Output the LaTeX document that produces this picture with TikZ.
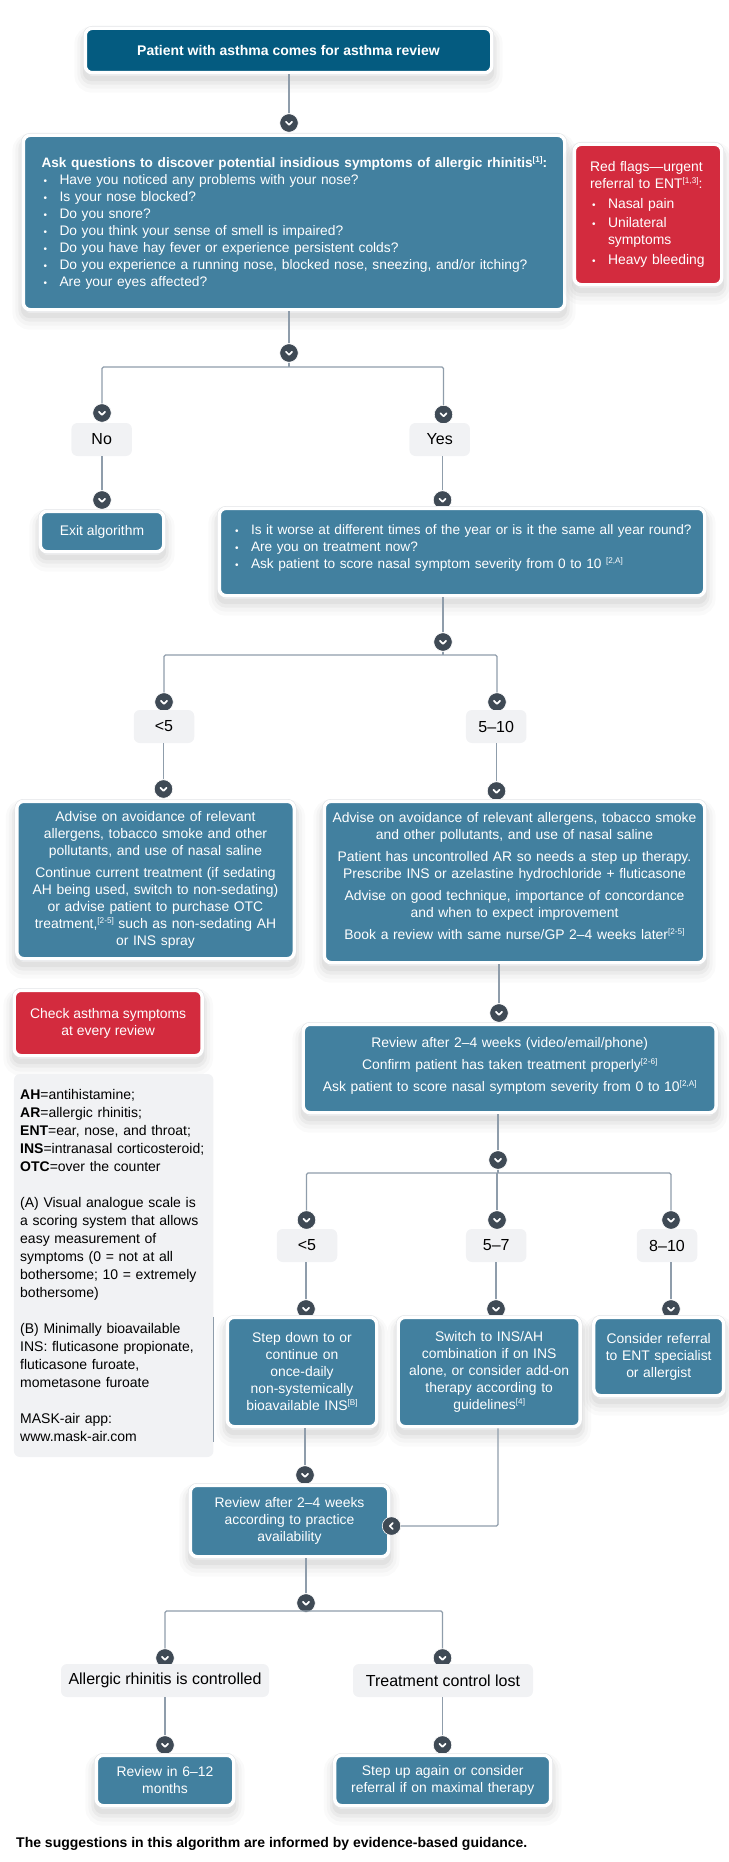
\documentclass[tikz,border=0pt]{standalone}
\usepackage{fontspec}
\setmainfont{Liberation Sans}
\newcommand{\refmark}[1]{\raisebox{5pt}{\fontsize{8.2}{8.2}\selectfont #1}}
\newcommand{\bul}{\makebox[18pt][l]{\hspace{2pt}\fontsize{10}{10}\selectfont\textbullet}}
\newcommand{\lowgap}[1]{\rule[-#1]{0pt}{#1}}
\tikzset{softshade/.style = {
    preaction={draw=black, draw opacity=.018, line width=22pt, transform canvas={yshift=-9pt}},
    preaction={draw=black, draw opacity=.025, line width=16pt, transform canvas={yshift=-8pt}},
    preaction={draw=black, draw opacity=.035, line width=10pt, transform canvas={yshift=-7pt}},
    preaction={draw=black, draw opacity=.045, line width=5pt, transform canvas={yshift=-6pt}}}}
\tikzset{flowbox/.style = {softshade, preaction={draw=rimgray, line width=4.6pt},
    draw=white, line width=3.4pt, fill=boxteal, rounded corners=7pt, text=white,
    inner sep=0pt, align=center, font=\fontsize{13.9}{17}\selectfont}}
\tikzset{redbox/.style = {flowbox, fill=flagred}}
\tikzset{startbox/.style = {flowbox, fill=topblue}}
\tikzset{choice/.style = {fill=panelgray, rounded corners=6pt, inner sep=0pt,
    align=center, font=\fontsize{16}{19}\selectfont}}
\tikzset{boxsize/.style 2 args = {minimum width=#1, minimum height=#2}}
\tikzset{link/.style = {draw=linkgray, line width=1.1pt, rounded corners=1.5pt}}
\tikzset{hop/.style = {circle, fill=hopdark, draw=white, line width=.6pt, minimum size=18.5pt, inner sep=0pt}}
\tikzset{hopdown/.style = {hop, path picture={
    \draw[white, line width=1.7pt, line cap=round, line join=round]
      ([shift={(-3,-1.2)}]path picture bounding box.center) -- ++(3,3) -- ++(3,-3);}}}
\tikzset{hopleft/.style = {hop, path picture={
    \draw[white, line width=1.7pt, line cap=round, line join=round]
      ([shift={(1.3,-3)}]path picture bounding box.center) -- ++(-3,3) -- ++(3,3);}}}
\definecolor{boxteal}{HTML}{42809F}
\definecolor{topblue}{HTML}{045B80}
\definecolor{flagred}{HTML}{D32B3E}
\definecolor{panelgray}{HTML}{F1F2F4}
\definecolor{linkgray}{HTML}{8F9DAB}
\definecolor{hopdark}{HTML}{3F4A55}
\definecolor{rimgray}{HTML}{E2E4E7}

\begin{document}
\begin{tikzpicture}[x=1pt, y=-1pt]
  \useasboundingbox (0, 0) rectangle (728, 1862);

  % top of the chart
  \node (visit) [startbox, boxsize={406.4}{44.4}] at (288.5, 50.5)
    {\fontsize{14}{17}\selectfont\bfseries Patient with asthma comes for asthma review};
  \node (hopA) [hopdown] at (289, 123) {};
  \node (ask) [flowbox, boxsize={541.4}{174.4}, text width=505pt, align=left,
      font=\fontsize{13.8}{17}\selectfont] at (294, 222.5)
    {\mbox{\fontsize{13.65}{17}\selectfont\bfseries Ask questions to discover potential insidious symptoms of allergic rhinitis\refmark{[1]}:}\\
     \bul Have you noticed any problems with your nose?\\
     \bul Is your nose blocked?\\
     \bul Do you snore?\\
     \bul Do you think your sense of smell is impaired?\\
     \bul Do you have hay fever or experience persistent colds?\\
     \bul Do you experience a running nose, blocked nose, sneezing, and/or itching?\\
     \bul Are your eyes affected?};
  \node (flags) [redbox, boxsize={147.4}{140.4}, text width=116pt, align=left] at (648, 214.5)
    {Red flags---urgent\\
     referral to ENT\refmark{[1,3]}:\\[2.5pt]
     \bul Nasal pain\\[2.5pt]
     \bul Unilateral\\
     \hspace*{18pt}symptoms\\[2.5pt]
     \bul Heavy bleeding};
  \node (hopB) [hopdown] at (289, 353) {};
  \coordinate (forkB) at (289, 367);
  \node (hopNo) [hopdown] at (102, 413) {};
  \node (hopYes) [hopdown] at (443.5, 414.5) {};
  \node (no) [choice, boxsize={60.5}{33}] at (101.7, 439.5) {No};
  \node (yes) [choice, boxsize={60.5}{33}] at (439.7, 439.5) {Yes};
  \node (hopExit) [hopdown] at (102, 500) {};
  \node (hopYear) [hopdown] at (442.5, 500) {};
  \node (exit) [flowbox, boxsize={123.4}{40.4}] at (102, 531.5) {Exit algorithm};
  \node (year) [flowbox, boxsize={485.4}{87.4}, text width=472pt, align=left,
      font=\fontsize{13.65}{17}\selectfont] at (462, 552)
    {\mbox{\hspace*{7pt}\bul Is it worse at different times of the year or is it the same all year round?}\\
     \hspace*{7pt}\bul Are you on treatment now?\\
     \hspace*{7pt}\bul Ask patient to score nasal symptom severity from 0 to 10 \refmark{[2,A]}\lowgap{10pt}};

  % first score
  \node (hopC) [hopdown] at (443, 642) {};
  \coordinate (forkC) at (443, 655);
  \node (hopLow) [hopdown] at (164, 702) {};
  \node (hopHigh) [hopdown] at (497, 702) {};
  \node (low) [choice, boxsize={60.5}{33}] at (164, 726.5) {<5};
  \node (high) [choice, boxsize={60.5}{33}] at (496.2, 726.5) {5--10};
  \node (hopAdvL) [hopdown] at (163.5, 789) {};
  \node (hopAdvR) [hopdown] at (496.5, 791) {};
  \node (advL) [flowbox, boxsize={277.4}{157.4}, text width=265pt] at (155.5, 880)
    {Advise on avoidance of relevant\\
     allergens, tobacco smoke and other\\
     pollutants, and use of nasal saline\\[5pt]
     Continue current treatment (if sedating\\
     AH being used, switch to non-sedating)\\
     or advise patient to purchase OTC\\
     treatment,\refmark{[2-5]} such as non-sedating AH\\
     or INS spray};
  \node (advR) [flowbox, boxsize={380.4}{161.4}, text width=372pt] at (514.5, 882)
    {Advise on avoidance of relevant allergens, tobacco smoke\\
     and other pollutants, and use of nasal saline\\[5pt]
     Patient has uncontrolled AR so needs a step up therapy.\\
     Prescribe INS or azelastine hydrochloride + fluticasone\\[5pt]
     Advise on good technique, importance of concordance\\
     and when to expect improvement\\[5pt]
     Book a review with same nurse/GP 2--4 weeks later\refmark{[2-5]}\lowgap{12pt}};

  % side notes
  \node (check) [redbox, boxsize={187.9}{65.4}] at (108.2, 1023)
    {Check asthma symptoms\\at every review};
  \node (notes) [fill=panelgray, rounded corners=6pt, boxsize={199.5}{383}, inner sep=0pt,
      text width=187pt, align=left, font=\fontsize{14}{18}\selectfont] at (113.7, 1265.5)
    {{\bfseries AH}=antihistamine;\\
     {\bfseries AR}=allergic rhinitis;\\
     {\bfseries ENT}=ear, nose, and throat;\\
     {\bfseries INS}=intranasal corticosteroid;\\
     {\bfseries OTC}=over the counter\\[18pt]
     (A) Visual analogue scale is\\
     a scoring system that allows\\
     easy measurement of\\
     symptoms (0 = not at all\\
     bothersome; 10 = extremely\\
     bothersome)\\[18pt]
     (B) Minimally bioavailable\\
     INS: fluticasone propionate,\\
     fluticasone furoate,\\
     mometasone furoate\\[18pt]
     MASK-air app:\\
     www.mask-air.com};
  \draw[draw=linkgray, line width=.5pt] ([yshift=-243pt]notes.north east) -- ([yshift=-368pt]notes.north east);

  % second score
  \node (hopRev) [hopdown] at (499, 1013) {};
  \node (rev) [flowbox, boxsize={412.9}{88.4}, text width=400pt] at (509.7, 1068.5)
    {Review after 2--4 weeks (video/email/phone)\\[5pt]
     Confirm patient has taken treatment properly\refmark{[2-6]}\\[5pt]
     Ask patient to score nasal symptom severity from 0 to 10\refmark{[2,A]}\lowgap{8pt}};
  \node (hopD) [hopdown] at (498, 1160) {};
  \coordinate (forkD) at (498, 1173);
  \node (hopE) [hopdown] at (306.5, 1220) {};
  \node (hopF) [hopdown] at (497, 1220) {};
  \node (hopG) [hopdown] at (671, 1220) {};
  \node (lowB) [choice, boxsize={60.5}{33}] at (307, 1245.5) {<5};
  \node (mid) [choice, boxsize={60.5}{33}] at (496.2, 1245.5) {5--7};
  \node (top) [choice, boxsize={60.5}{33}] at (667, 1245.5) {8--10};
  \node (hopDown) [hopdown] at (306, 1309) {};
  \node (hopSwitch) [hopdown] at (496, 1309) {};
  \node (hopRefer) [hopdown] at (671, 1309) {};
  \node (down) [flowbox, boxsize={149.4}{109.4}, text width=146pt] at (302, 1372)
    {Step down to or\\
     continue on\\
     once-daily\\
     non-systemically\\
     bioavailable INS\refmark{[B]}};
  \node (switch) [flowbox, boxsize={181.9}{109.4}, text width=176pt] at (489.2, 1372)
    {Switch to INS/AH\\
     combination if on INS\\
     alone, or consider add-on\\
     therapy according to\\
     guidelines\refmark{[4]}};
  \node (refer) [flowbox, boxsize={129.9}{78.4}, text width=124pt] at (658.7, 1356.5)
    {Consider referral\\to ENT specialist\\or allergist};

  % last review
  \node (hopH) [hopdown] at (305, 1475) {};
  \node (again) [flowbox, boxsize={198.4}{71.4}, text width=190pt] at (289.5, 1521)
    {Review after 2--4 weeks\\according to practice\\availability};
  \node (hopJ) [hopleft] at (391.5, 1526) {};
  \node (hopK) [hopdown] at (306, 1603) {};
  \coordinate (forkK) at (306, 1611);
  \node (hopL) [hopdown] at (165, 1658) {};
  \node (hopM) [hopdown] at (442.5, 1658) {};
  \node (good) [choice, boxsize={208}{33}] at (165, 1680.5) {Allergic rhinitis is controlled};
  \node (lost) [choice, boxsize={180}{33}] at (443, 1680.5) {Treatment control lost};
  \node (hopN) [hopdown] at (165, 1745) {};
  \node (hopP) [hopdown] at (442.5, 1745) {};
  \node (later) [flowbox, boxsize={137.4}{50.4}, text width=120pt] at (165, 1780.5)
    {Review in 6--12\\months};
  \node (stepup) [flowbox, boxsize={215.9}{50.4}, text width=206pt] at (442.7, 1780.5)
    {Step up again or consider\\referral if on maximal therapy};
  \node (foot) [anchor=west, inner sep=0pt, font=\fontsize{14}{17}\selectfont\bfseries] at (16, 1844)
    {The suggestions in this algorithm are informed by evidence-based guidance.};

  % connectors
  \draw[link] (visit.south -| hopA) -- (hopA);
  \draw[link] (ask.south -| hopB) -- (hopB);
  \draw[link] (hopB) -- (forkB);
  \draw[link] (hopNo) |- (forkB) -| (hopYes);
  \draw[link] (no.south -| hopExit) -- (hopExit);
  \draw[link] (yes.south -| hopYear) -- (hopYear);
  \draw[link] (year.south -| hopC) -- (hopC);
  \draw[link] (hopC) -- (forkC);
  \draw[link] (hopLow) |- (forkC) -| (hopHigh);
  \draw[link] (low.south -| hopAdvL) -- (hopAdvL);
  \draw[link] (high.south -| hopAdvR) -- (hopAdvR);
  \draw[link] (advR.south -| hopRev) -- (hopRev);
  \draw[link] (rev.south -| hopD) -- (hopD);
  \draw[link] (hopD) -- (forkD);
  \draw[link] (hopE) |- (forkD) -| (hopG);
  \draw[link] (forkD -| hopF) -- (hopF);
  \draw[link] (lowB.south -| hopDown) -- (hopDown);
  \draw[link] (mid.south -| hopSwitch) -- (hopSwitch);
  \draw[link] (top.south -| hopRefer) -- (hopRefer);
  \draw[link] (down.south -| hopH) -- (hopH);
  \draw[link] (switch.south -| hopD) |- (hopJ);
  \draw[link] (again.south -| hopK) -- (hopK);
  \draw[link] (hopL) |- (forkK) -| (hopM);
  \draw[link] (good.south -| hopN) -- (hopN);
  \draw[link] (lost.south -| hopP) -- (hopP);
\end{tikzpicture}
\end{document}
